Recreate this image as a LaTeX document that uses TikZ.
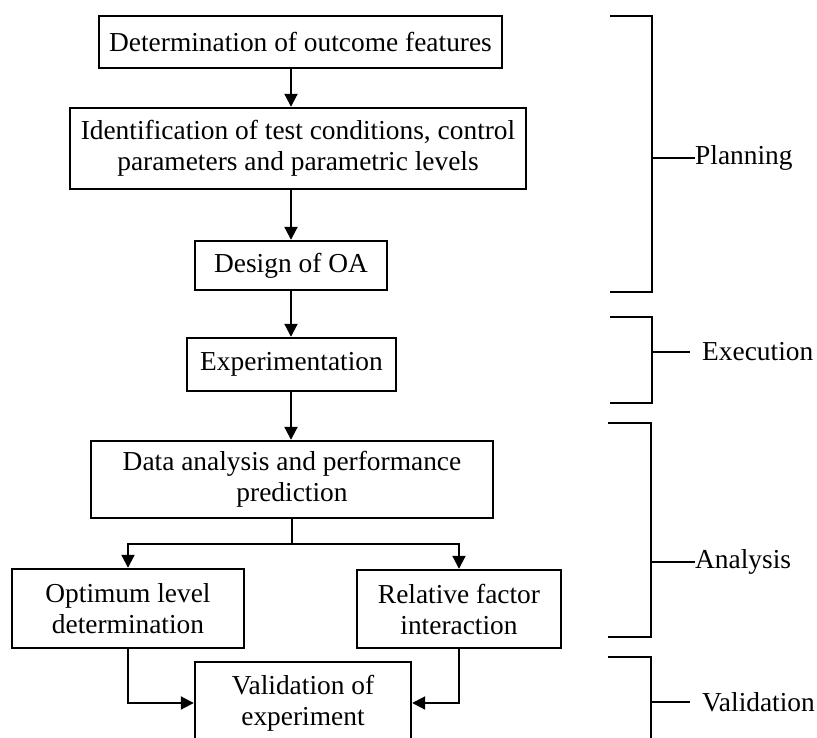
\documentclass[tikz,border=0pt]{standalone}
\usepackage{fontspec}
\setmainfont{Liberation Serif}
\usetikzlibrary{arrows.meta}

\begin{document}
\begin{tikzpicture}[x=1pt,y=-1pt,
    font=\fontsize{27.4}{31}\selectfont,
    stage/.style={draw,line width=2.4pt,inner sep=0pt,align=center},
    flow/.style={line width=2pt,-{Triangle[length=13pt,width=13pt]}},
    bracket/.style={line width=2.4pt}]
    \clip (0,0) rectangle (817,738);
    \node[stage,minimum width=403pt,minimum height=52pt](determ) at (300.5,42){Determination of outcome features};
    \node[stage,minimum width=456pt,minimum height=81pt](ident) at (298,148.5){Identification of test conditions, control\\parameters and parametric levels};
    \node[stage,minimum width=192pt,minimum height=49pt](design) at (291,265.5){Design of OA};
    \node[stage,minimum width=209pt,minimum height=53pt](exper) at (291.5,364.5){Experimentation};
    \node[stage,minimum width=402pt,minimum height=77pt](analysis) at (292,479.5){Data analysis and performance\\prediction};
    \node[stage,minimum width=232pt,minimum height=79pt](optimum) at (128,608.5){Optimum level\\determination};
    \node[stage,minimum width=204pt,minimum height=78pt](relative) at (459,609){Relative factor\\interaction};
    \node[stage,minimum width=216pt,minimum height=82pt](valid) at (303,703){Validation of\\experiment};
    \coordinate (spine) at (291,0);
    \coordinate (split) at (292,544);

    \draw[flow] (determ.south -| spine) -- (ident.north -| spine);
    \draw[flow] (ident.south -| spine) -- (design.north -| spine);
    \draw[flow] (design.south -| spine) -- (exper.north -| spine);
    \draw[flow] (exper.south -| spine) -- (analysis.north -| spine);
    \draw[line width=2pt] (analysis.south -| split) -- (split);
    \draw[flow] (split) -| (optimum.north);
    \draw[flow] (split) -| (relative.north);
    \draw[flow] (optimum.south) |- (valid.west);
    \draw[flow] (relative.south) |- (valid.east);

    % phases on the right
    \node[anchor=west,inner sep=0pt](planning) at (695,158){Planning};
    \node[anchor=west,inner sep=0pt](execution) at (702,352){Execution};
    \node[anchor=west,inner sep=0pt](analysislbl) at (695,562){Analysis};
    \node[anchor=west,inner sep=0pt](validation) at (702,702){Validation};
    \draw[bracket] (610,16) -- (652,16) -- (652,292) -- (610,292)
      (652,158) -- (planning.west);
    \draw[bracket] (610,317) -- (652,317) -- (652,403) -- (610,403)
      (652,352) -- (690,352);
    \draw[bracket] (608,423) -- (651,423) -- (651,637) -- (608,637)
      (651,562) -- (analysislbl.west);
    \draw[bracket] (608,657) -- (651,657) -- (651,750)
      (651,702) -- (690,702);
\end{tikzpicture}
\end{document}
